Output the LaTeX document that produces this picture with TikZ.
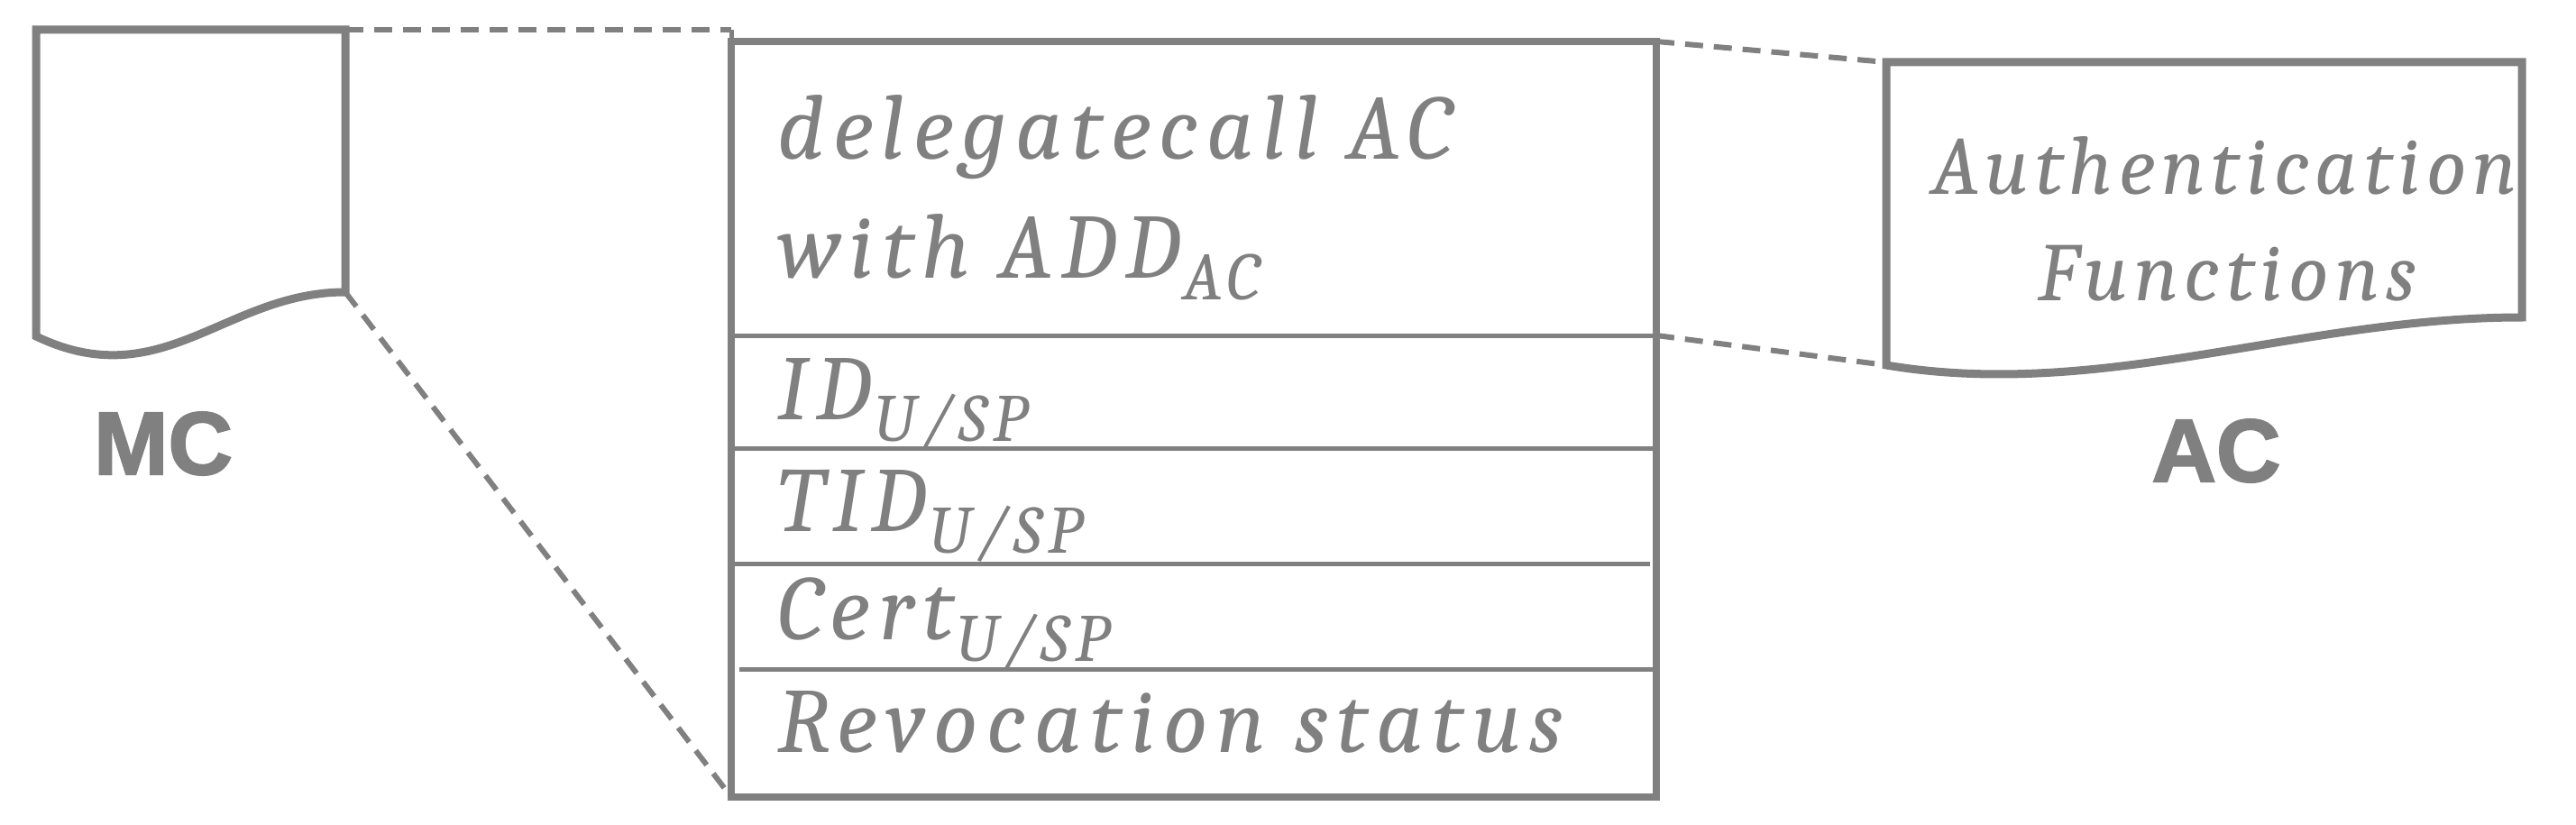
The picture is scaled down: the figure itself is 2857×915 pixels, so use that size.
\documentclass[tikz,border=0pt]{standalone}
\usepackage{fontspec}
\newfontfamily\labelfont{Liberation Sans}[FakeBold=2]
\IfFontExistsTF{Caladea}
  {\newfontfamily\camfont{Caladea}[LetterSpace=9.5]
   \newfontfamily\acfont{Caladea}[LetterSpace=7.5]}
  {\newfontfamily\camfont{DejaVu Serif}
   \newfontfamily\acfont{DejaVu Serif}}
\definecolor{ink}{HTML}{808080}
\newcommand\subs[1]{\kern3pt\raisebox{-24pt}{\fontsize{75}{80}\selectfont #1}}
\newcommand\usp{U\kern6pt/\kern6pt SP}
\tikzset{
  frame/.style={draw=ink, line width=9pt, line join=miter, fill=white},
  divider/.style={draw=ink, line width=5pt},
  guide/.style={draw=ink, line width=6pt, dash pattern=on 20pt off 12pt},
  txt/.style={text=ink, inner sep=0pt, font=\camfont\itshape\fontsize{102}{120}\selectfont, anchor=base west},
  actx/.style={text=ink, inner sep=0pt, font=\acfont\itshape\fontsize{92}{110}\selectfont, anchor=base},
  lbl/.style={text=ink, inner sep=0pt, font=\labelfont\bfseries\fontsize{99}{110}\selectfont},
}
\begin{document}
\begin{tikzpicture}[x=1pt, y=-1pt]
\useasboundingbox (0,0) rectangle (2857,915);
% named corners
\coordinate (mcTR) at (383,33);
\coordinate (mcBR) at (383,324);
\coordinate (bxTLo) at (811,33);
\coordinate (bxTL) at (811,46);
\coordinate (bxTR) at (1837,46);
\coordinate (bxBL) at (811,884);
\coordinate (bxD1) at (1837,372);
\coordinate (acTL) at (2092,69);
\coordinate (acBL) at (2092,405);

% dashed guides
\draw[guide] (mcTR) -- (bxTLo);
\draw[guide] (mcBR) -- (bxBL);
\draw[guide] (bxTR) -- (acTL);
\draw[guide] (bxD1) -- (acBL);

% MC document
\draw[frame] (40,33) -- (mcTR) -- (mcBR) .. controls (250,324) and (180,440) .. (40,373) -- cycle;
\node[lbl] (mc) at (181,492) {MC};

% central box
\draw[draw=ink, line width=5pt] (bxTLo) -- (bxTL);
\draw[draw=ink, line width=8pt] (bxTL) rectangle (1837,884);
\draw[divider] (811,372) -- (1837,372);
\draw[divider] (811,497) -- (1837,497);
\draw[divider] (811,625) -- (1830,625);
\draw[divider] (820,742) -- (1837,742);
\node[txt] (t1) at (862,176) {delegatecall AC};
\node[txt] (t2) at (862,308) {with ADD\subs{AC}};
\node[txt] (t3) at (862,465) {ID\subs{\usp}};
\node[txt] (t4) at (862,589) {TID\subs{\usp}};
\node[txt] (t5) at (862,709) {Cert\subs{\usp}};
\node[txt] (t6) at (862,834) {Revocation status};

% AC document
\draw[frame] (acTL) -- (2797,69) -- (2797,352) .. controls (2550,352) and (2330,445) .. (acBL) -- cycle;
\node[actx] (a1) at (2467,215) {Authentication};
\node[actx] (a2) at (2470,333) {Functions};
\node[lbl] (ac) at (2458,500) {AC};
\end{tikzpicture}
\end{document}
